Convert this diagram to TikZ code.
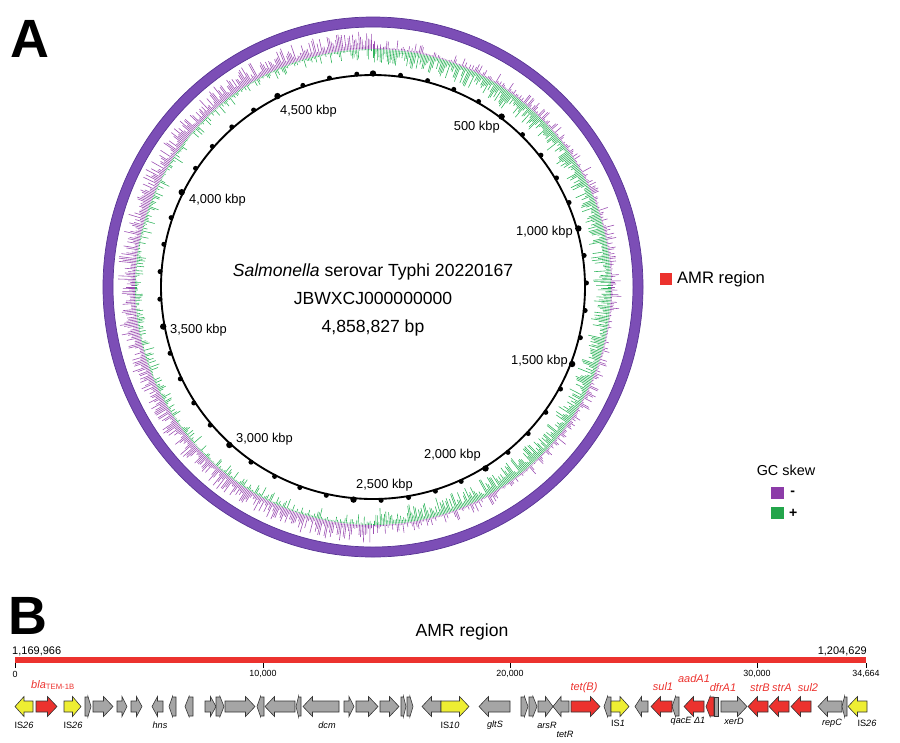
\documentclass[tikz,border=0pt]{standalone}
\usepackage{fontspec}
\setmainfont{Liberation Sans}
\usetikzlibrary{positioning}

\definecolor{ringpurple}{RGB}{124,78,182}
\definecolor{ringedge}{RGB}{88,52,148}
\definecolor{skewminus}{RGB}{155,78,178}
\definecolor{skewplus}{RGB}{48,180,92}
\definecolor{swminus}{RGB}{140,60,168}
\definecolor{swplus}{RGB}{35,165,75}
\definecolor{amrred}{RGB}{236,50,46}
\definecolor{isyellow}{RGB}{238,238,50}
\definecolor{cdsgray}{RGB}{165,165,165}

% gene arrows: start, end, fill colour (panel B, centre line at \gy)
\newcommand{\gy}{706.5}
\newcommand{\generight}[3]{%
  \pgfmathsetmacro\glen{#2-#1}%
  \pgfmathsetmacro\ghead{min(9.5,0.5*\glen)}%
  \pgfmathsetmacro\gbody{(\glen<9) ? 9.5 : 5.5}%
  \filldraw[gene, fill=#3] (#1,\gy-\gbody) -- (#2-\ghead,\gy-\gbody) -- (#2-\ghead,\gy-10)
    -- (#2,\gy) -- (#2-\ghead,\gy+10) -- (#2-\ghead,\gy+\gbody) -- (#1,\gy+\gbody) -- cycle;}
\newcommand{\geneleft}[3]{%
  \pgfmathsetmacro\glen{#2-#1}%
  \pgfmathsetmacro\ghead{min(9.5,0.5*\glen)}%
  \pgfmathsetmacro\gbody{(\glen<9) ? 9.5 : 5.5}%
  \filldraw[gene, fill=#3] (#2,\gy-\gbody) -- (#1+\ghead,\gy-\gbody) -- (#1+\ghead,\gy-10)
    -- (#1,\gy) -- (#1+\ghead,\gy+10) -- (#1+\ghead,\gy+\gbody) -- (#2,\gy+\gbody) -- cycle;}

\begin{document}
\begin{tikzpicture}[x=0.03cm, y=-0.03cm,
  panel/.style={font=\fontsize{46}{48}\selectfont\bfseries, inner sep=0pt},
  kbp/.style={font=\fontsize{11}{13}\selectfont, inner sep=0pt},
  gene/.style={draw=black!80, line width=0.5pt},
  genelbl/.style={font=\fontsize{7.8}{9}\selectfont, inner sep=0pt},
  reslbl/.style={text=amrred, font=\fontsize{9.4}{11}\selectfont\itshape, inner sep=0pt},
  poslbl/.style={font=\fontsize{9.4}{11}\selectfont, inner sep=0pt},
  scalelbl/.style={font=\fontsize{7.6}{9}\selectfont, inner sep=0pt},
  swatch/.style={inner sep=0pt, minimum size=11pt}]
  \useasboundingbox (0,0) rectangle (900,742);

  % ---------- A: circular map ----------
  \node[panel] (pa) at (30,39) {A};
  \begin{scope}[shift={(373,287)}, yscale=-1]
    \fill[ringpurple, even odd rule] (0,0) circle (270) (0,0) circle (260);
    \draw[ringedge, line width=0.6pt] (0,0) circle (270) (0,0) circle (260);
    % GC skew
    \pgfmathsetseed{20220167}
    \foreach \i in {0,...,999}{
      \pgfmathsetmacro\ang{90-0.36*\i}
      \pgfmathsetmacro\gcp{(\i<500) ? 3+15*rnd^1.3 : 1+10*rnd^3}
      \pgfmathsetmacro\gcm{(\i<500) ? 1+10*rnd^3 : 3+15*rnd^1.3}
      \pgfmathsetmacro\rin{238-\gcp}
      \pgfmathsetmacro\rout{238+\gcm}
      \draw[skewplus, line width=0.5pt] (\ang:238) -- (\ang:\rin);
      \draw[skewminus, line width=0.5pt] (\ang:238) -- (\ang:\rout);
    }
    \draw[line width=1.6pt] (0,0) circle (212);
    \foreach \k in {0,...,48}{
      \pgfmathsetmacro\ang{90-7.40918*\k}
      \pgfmathsetmacro\dr{(mod(\k,5)==0) ? 3.2 : 2.5}
      \fill (\ang:213.5) circle (\dr);
    }
  \end{scope}

  \node[kbp, anchor=east] (k500)  at (500,127) {500 kbp};
  \node[kbp, anchor=east] (k1000) at (573,232) {1,000 kbp};
  \node[kbp, anchor=east] (k1500) at (568,361) {1,500 kbp};
  \node[kbp, anchor=east] (k2000) at (481,455) {2,000 kbp};
  \node[kbp, anchor=west] (k2500) at (356,485) {2,500 kbp};
  \node[kbp, anchor=west] (k3000) at (236,439) {3,000 kbp};
  \node[kbp, anchor=west] (k3500) at (170,330) {3,500 kbp};
  \node[kbp, anchor=west] (k4000) at (189,200) {4,000 kbp};
  \node[kbp, anchor=west] (k4500) at (280,111) {4,500 kbp};

  \node[font=\fontsize{15}{23.8}\selectfont, align=center] (title) at (373,300)
    {\textit{Salmonella} serovar Typhi 20220167\\JBWXCJ000000000\\4,858,827 bp};

  \node[swatch, fill=amrred, minimum size=10.2pt] (amrkey) at (666,279) {};
  \node[right=4pt of amrkey, inner sep=0pt, font=\fontsize{14.2}{16}\selectfont] (amrkeytxt) {AMR region};

  \node[font=\fontsize{12.3}{14}\selectfont, inner sep=0pt] (gcskew) at (786,470) {GC skew};
  \node[swatch, fill=swminus] (swm) at (777.5,493) {};
  \node[swatch, fill=swplus] (swp) at (777.5,513) {};
  \node[right=5pt of swm, inner sep=0pt, font=\fontsize{12}{14}\selectfont\bfseries] (swmtxt) {-};
  \node[right=4pt of swp, inner sep=0pt, font=\fontsize{12}{14}\selectfont\bfseries] (swptxt) {+};

  % ---------- B: AMR region ----------
  \node[panel] (pb) at (28,616) {B};
  \node[font=\fontsize{15}{17}\selectfont, inner sep=0pt] (amrtitle) at (462,632) {AMR region};
  \coordinate (bar0) at (15,660);
  \coordinate (bar1) at (866,660);
  \draw[amrred, line width=5pt] (bar0) -- (bar1);
  \node[poslbl, anchor=west] (posstart) at (12,651) {1,169,966};
  \node[poslbl, anchor=east] (posend) at (867,651) {1,204,629};
  \foreach \x/\t in {15/0, 263/{10,000}, 510/{20,000}, 757/{30,000}, 866/{34,664}}{
    \coordinate (ta\x) at (\x,663);
    \coordinate (tb\x) at (\x,668);
    \draw[line width=0.8pt] (ta\x) -- (tb\x);
    \node[scalelbl] (sl\x) at (\x,674) {\t};
  }

  % genes
  \foreach \a/\b in {85/91, 93/113, 117/127, 131/142, 205/216, 216/224, 225/255,
      344/354, 356/378, 380/399, 401/406, 407/413, 521/528, 529/537, 538/553, 721/747}
    \generight{\a}{\b}{cdsgray};
  \foreach \a/\b in {152/163, 169/176, 185/193, 257/264, 265/295, 296/301, 303/339,
      422/441, 479/510, 553/569, 604/611, 635/648, 672/679, 818/842, 842/847}
    \geneleft{\a}{\b}{cdsgray};
  \foreach \a/\b in {36/57, 571/600}
    \generight{\a}{\b}{amrred};
  \foreach \a/\b in {651/672, 684/704, 706/714, 748/768, 769/789, 791/811}
    \geneleft{\a}{\b}{amrred};
  \draw[gene, fill=cdsgray] (714,697) rectangle (718,716);
  \foreach \a/\b in {64/81, 441/469, 611/629}
    \generight{\a}{\b}{isyellow};
  \foreach \a/\b in {15/33, 848/867}
    \geneleft{\a}{\b}{isyellow};

  \node[genelbl] (is26a) at (24,725) {IS\textit{26}};
  \node[genelbl] (is26b) at (73,725) {IS\textit{26}};
  \node[genelbl, font=\fontsize{7.8}{9}\selectfont\itshape] (hns) at (160,725) {hns};
  \node[genelbl, font=\fontsize{7.8}{9}\selectfont\itshape] (dcm) at (327,725) {dcm};
  \node[genelbl] (is10) at (450,725) {IS\textit{10}};
  \node[genelbl, font=\fontsize{7.8}{9}\selectfont\itshape] (glts) at (495,725) {gltS};
  \node[genelbl, font=\fontsize{7.8}{9}\selectfont\itshape] (arsr) at (547,725) {arsR};
  \node[genelbl, font=\fontsize{7.8}{9}\selectfont\itshape] (tetr) at (565,734) {tetR};
  \node[genelbl] (is1) at (618,723) {IS\textit{1}};
  \node[genelbl, font=\fontsize{7.8}{9}\selectfont\itshape] (qace) at (688,721) {qacE Δ1};
  \node[genelbl, font=\fontsize{7.8}{9}\selectfont\itshape] (xerd) at (734,721) {xerD};
  \node[genelbl, font=\fontsize{7.8}{9}\selectfont\itshape] (repc) at (832,723) {repC};
  \node[genelbl] (is26c) at (867,723) {IS\textit{26}};

  \node[reslbl] (bla) at (53,685) {bla\textsubscript{\upshape TEM-1B}};
  \node[reslbl] (tetb) at (584,688) {tet(B)};
  \node[reslbl] (sul1) at (663,687) {sul1};
  \node[reslbl] (aada1) at (694,679) {aadA1};
  \node[reslbl] (dfra1) at (723,688) {dfrA1};
  \node[reslbl] (strb) at (760,688) {strB};
  \node[reslbl] (stra) at (782,688) {strA};
  \node[reslbl] (sul2) at (808,688) {sul2};
\end{tikzpicture}
\end{document}
